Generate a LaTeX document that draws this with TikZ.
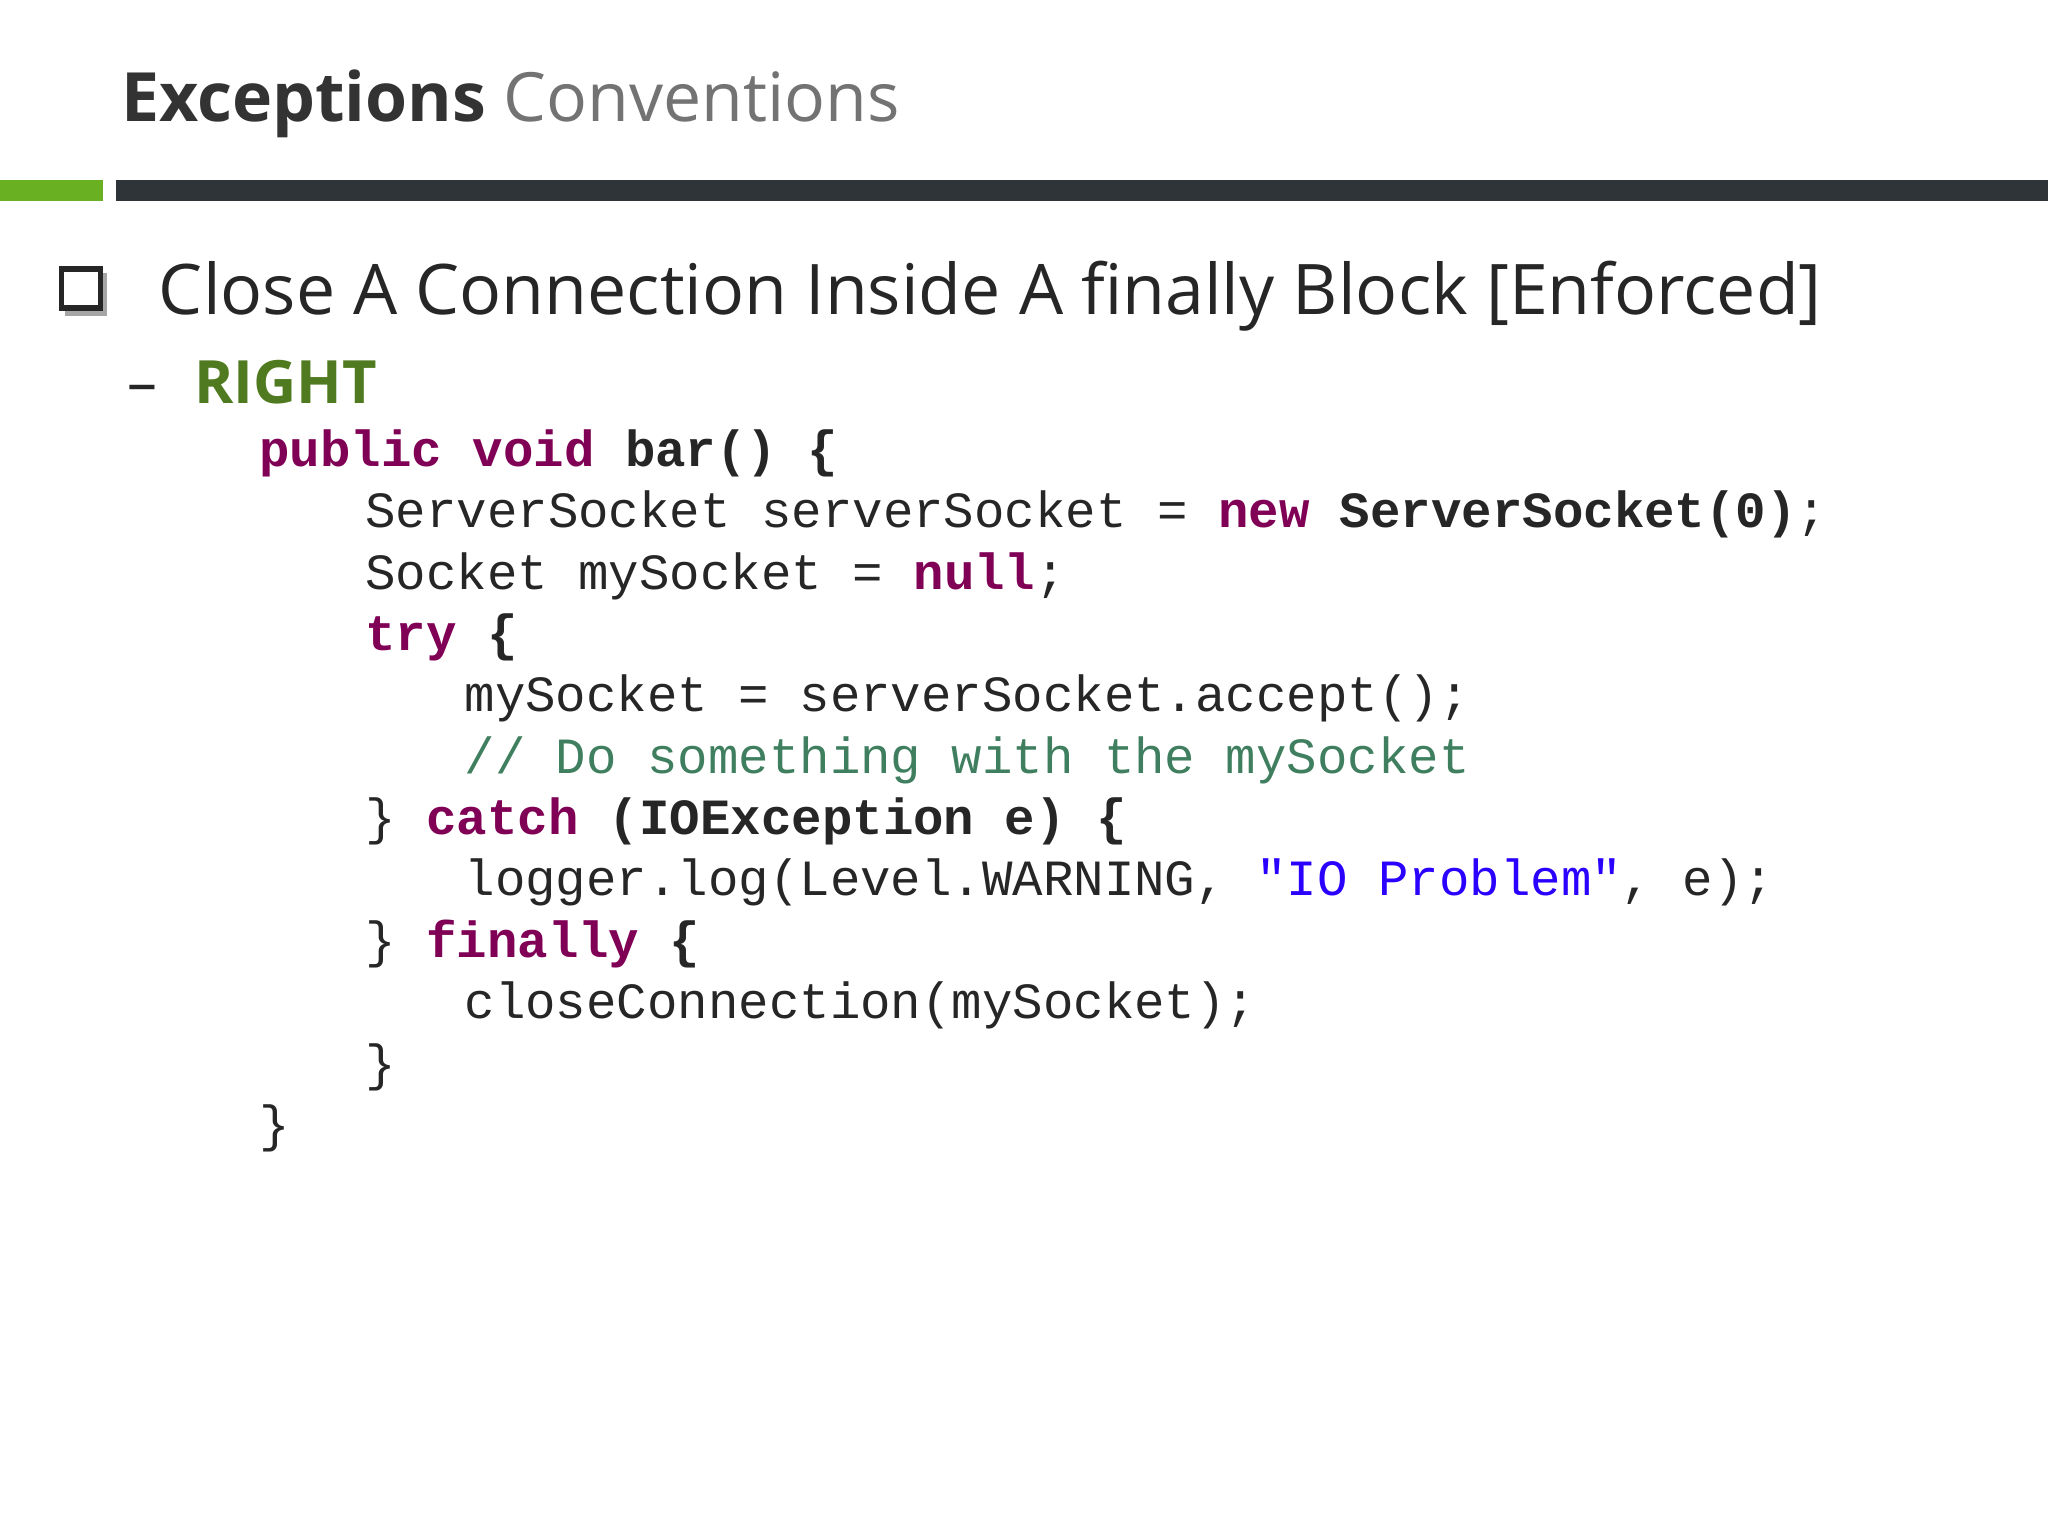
\documentclass[tikz,border=0pt]{standalone}
\usepackage{fontspec}
\setmainfont{Open Sans}
\setmonofont{Liberation Mono}
\usetikzlibrary{positioning}
\definecolor{kwcol}{HTML}{7F0055}
\definecolor{cmcol}{HTML}{3F7F5F}
\definecolor{strcol}{HTML}{2A00FF}
\definecolor{rightcol}{HTML}{4F7A1F}
\definecolor{barcol}{HTML}{2F3438}
\definecolor{barleft}{HTML}{6AB023}
\newcommand{\kw}[1]{\textcolor{kwcol}{\textbf{#1}}}
\newcommand{\bd}[1]{\textbf{#1}}
\begin{document}
\begin{tikzpicture}[
    x=0.01cm, y=-0.01cm,
    codeline/.style={anchor=base west, inner sep=0pt, font=\ttfamily\fontsize{11.05}{13}\selectfont, text=black!85},
    heading/.style={anchor=base west, inner sep=0pt}
]
\useasboundingbox (0,0) rectangle (1568,1176);

% title and bar
\node[heading, font=\fontsize{14.8}{18}\selectfont] (title) at (92,93)
  {\textcolor{black!80}{\textbf{Exceptions}} \textcolor{black!55}{Conventions}};
\fill[barleft] (0,138) rectangle (79,154);
\fill[barcol] (89,138) rectangle (1568,154);

% bullet and headings
\fill[black!35] (50,209) rectangle (82,242);
\draw[black!85, line width=1.2pt, fill=white] (47,206) rectangle (77,236);
\node[heading, font=\fontsize{15.2}{18}\selectfont, text=black!85] (point) at (121,241)
  {Close A Connection Inside A finally Block [Enforced]};
\node[heading, font=\fontsize{13}{16}\selectfont, text=black!85] (dash) at (97,309) {–};
\node[heading, font=\bfseries\fontsize{13}{16}\selectfont, text=rightcol] (right) at (148,309) {RIGHT};

% code
\node[codeline] (l1) at (198,357) {\kw{public} \kw{void} \bd{bar()} \bd{\{}};
\node[codeline] (l2) at (279,404) {ServerSocket serverSocket = \kw{new} \bd{ServerSocket(0)};};
\node[codeline] (l3) at (279,451) {Socket mySocket = \kw{null};};
\node[codeline] (l4) at (279,498) {\kw{try} \bd{\{}};
\node[codeline] (l5) at (355,545) {mySocket = serverSocket.accept();};
\node[codeline, text=cmcol] (l6) at (355,592) {// Do something with the mySocket};
\node[codeline] (l7) at (279,639) {\} \kw{catch} \bd{(IOException e)} \bd{\{}};
\node[codeline] (l8) at (355,686) {logger.log(Level.WARNING, \textcolor{strcol}{"IO Problem"}, e);};
\node[codeline] (l9) at (279,733) {\} \kw{finally} \bd{\{}};
\node[codeline] (l10) at (355,780) {closeConnection(mySocket);};
\node[codeline] (l11) at (279,827) {\}};
\node[codeline] (l12) at (198,874) {\}};
\end{tikzpicture}
\end{document}
